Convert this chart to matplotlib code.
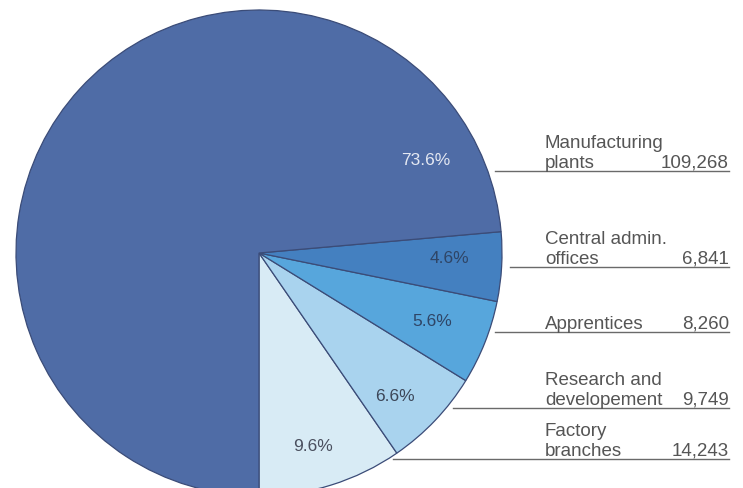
import matplotlib
matplotlib.use("Agg")
import matplotlib.pyplot as plt

plt.rcParams['font.family'] = ['Liberation Sans', 'DejaVu Sans']

# slices listed counter-clockwise starting from straight down
names = ["Factory\nbranches", "Research and\ndevelopement", "Apprentices",
         "Central admin.\noffices", "Manufacturing\nplants"]
shares = [9.6, 6.6, 5.6, 4.6, 73.6]
counts = [14243, 9749, 8260, 6841, 109268]
colors = ["#d8ebf5", "#a9d3ee", "#57a6dc", "#4480c0", "#4f6ca6"]

fig = plt.figure(figsize=(7.43, 4.89), dpi=100)
ax = fig.add_axes([0, 0, 1, 1])
H = 489

cx, cy, r = 259, H - 254, 243
wedges, _ = ax.pie(shares, colors=colors, startangle=-90, counterclock=True,
                   center=(cx, cy), radius=r, frame=True,
                   wedgeprops=dict(edgecolor="#3b4c78", linewidth=0.9))

# percentage labels inside the wedges
pct_pos = [(313, 447), (395, 397), (432, 322), (449, 259), (426, 161)]
pct_col = ["#4a4f5e", "#3c4658", "#2f4566", "#2f4566", "#e4e8f2"]
for s, (px, py), c in zip(shares, pct_pos, pct_col):
    ax.text(px, H - py, f"{s:.1f}%", ha="center", va="center",
            fontsize=12.5, color=c)

# leader lines with names and counts on the right
line_y = [460, 409, 333, 268, 172]
line_x0 = [393, 453, 495, 510, 495]
x_name, x_end = 545, 729
txt = dict(fontsize=13.5, color="#555555", va="baseline")
for name, n, ly, lx in zip(names, counts, line_y, line_x0):
    ax.plot([lx, x_end], [H - ly, H - ly], color="#6a6a6a", lw=1.0)
    # one text per row, last row sits just above the line
    rows = name.split("\n")
    for k, row in enumerate(reversed(rows)):
        ax.text(x_name, H - ly + 4 + 20 * k, row, ha="left", **txt)
    ax.text(x_end, H - ly + 4, f"{n:,}", ha="right", **txt)

ax.set_xlim(0, 743)
ax.set_ylim(0, H)
ax.set_aspect("equal")
ax.axis("off")

fig.savefig("out.png", dpi=100)
